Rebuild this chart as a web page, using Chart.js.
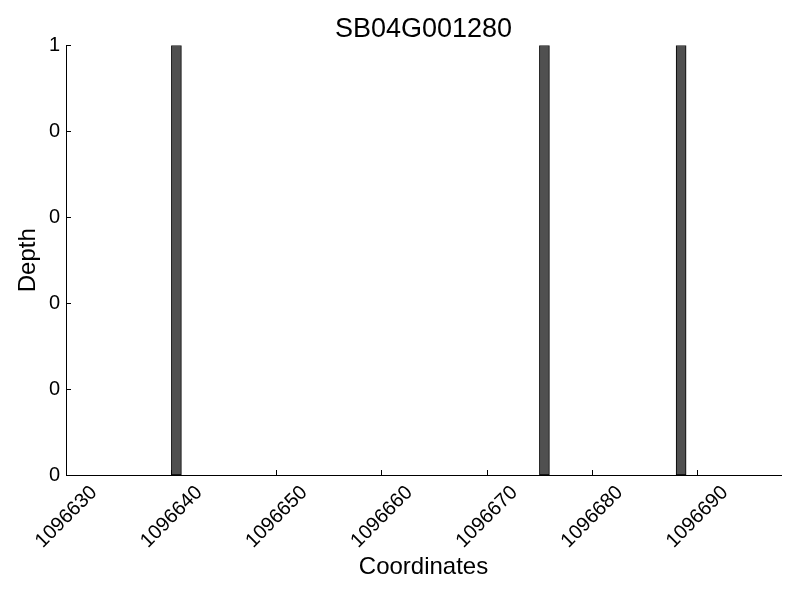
<!DOCTYPE html>
<html>
<head>
<meta charset="utf-8">
<script src="https://cdn.jsdelivr.net/npm/chart.js@4"></script>
<style>
  html, body { margin: 0; padding: 0; background: #fff; }
  #wrap { width: 800px; height: 600px; }
</style>
</head>
<body>
<div id="wrap"><canvas id="myChart" width="800" height="600"></canvas></div>
<script>
'use strict';
//--------------------DATA

const chartTitle = 'SB04G001280';

// bar centres (coordinate) and depth
const coords = [1096640.5, 1096675.5, 1096688.5];
const depths = [1, 1, 1];

// axis ticks
const xTicks = [1096630, 1096640, 1096650, 1096660, 1096670, 1096680, 1096690];
const yTicks = [0, 0.2, 0.4, 0.6, 0.8, 1];
const yTickLabels = ['0', '0', '0', '0', '0', '1'];

const xMin = 1096630;
const xMax = 1096698;

//--------------------PLUGINS

// matplotlib style ticks pointing into the plot
const inwardTicks = {
  id: 'inwardTicks',
  beforeDatasetsDraw(chart) {
    const ctx = chart.ctx;
    const x = chart.scales.x;
    const y = chart.scales.y;
    ctx.save();
    ctx.strokeStyle = '#000';
    ctx.lineWidth = 1;
    ctx.beginPath();
    for (let i = 0; i < x.ticks.length; i++) {
      const px = Math.round(x.getPixelForTick(i)) + 0.5;
      ctx.moveTo(px, x.top);
      ctx.lineTo(px, x.top - 5);
    }
    for (let i = 0; i < y.ticks.length; i++) {
      const py = Math.round(y.getPixelForTick(i)) + 0.5;
      ctx.moveTo(y.right, py);
      ctx.lineTo(y.right + 5, py);
    }
    ctx.stroke();
    ctx.restore();
  }
};

//--------------------CHART

const fontFamily = '"Liberation Sans", Arial, sans-serif';

const config = {
  type: 'bar',
  data: {
    datasets: [{
      data: coords.map((c, i) => ({ x: c, y: depths[i] })),
      backgroundColor: '#505050',
      borderColor: '#000',
      borderWidth: 1,
      borderSkipped: false,
      barThickness: 10,
    }],
  },
  options: {
    responsive: false,
    animation: false,
    devicePixelRatio: 1,
    layout: { padding: { left: 14, right: 19, top: 0, bottom: 18 } },
    plugins: {
      legend: { display: false },
      tooltip: { enabled: false },
      title: {
        display: true,
        fullSize: false,
        text: chartTitle,
        color: '#000',
        font: { family: fontFamily, size: 27, weight: 'normal' },
        padding: { top: 13, bottom: 0 },
      },
    },
    scales: {
      x: {
        type: 'linear',
        offset: false,
        min: xMin,
        max: xMax,
        afterBuildTicks: (scale) => { scale.ticks = xTicks.map(v => ({ value: v })); },
        afterFit: (scale) => { scale.height = 600 - 18 - 475; },
        grid: { display: false, drawTicks: false, offset: false },
        border: { display: true, color: '#000', width: 1 },
        ticks: {
          color: '#000',
          font: { family: fontFamily, size: 20 },
          minRotation: 45,
          maxRotation: 45,
          padding: 6,
          labelOffset: 28,
          callback: (v) => String(v),
        },
        title: {
          display: true,
          text: 'Coordinates',
          color: '#000',
          font: { family: fontFamily, size: 24 },
          padding: { top: 0, bottom: 0 },
        },
      },
      y: {
        min: 0,
        max: 1,
        afterBuildTicks: (scale) => { scale.ticks = yTicks.map(v => ({ value: v })); },
        afterFit: (scale) => { scale.width = 66 - 14; },
        grid: { display: false, drawTicks: false },
        border: { display: true, color: '#000', width: 1 },
        ticks: {
          color: '#000',
          font: { family: fontFamily, size: 20 },
          padding: 6,
          callback: (v, i) => yTickLabels[i],
        },
        title: {
          display: true,
          text: 'Depth',
          color: '#000',
          font: { family: fontFamily, size: 24 },
          padding: { top: 0, bottom: 0 },
        },
      },
    },
  },
  plugins: [inwardTicks],
};

const myChart = new Chart(document.getElementById('myChart'), config);
</script>
</body>
</html>
